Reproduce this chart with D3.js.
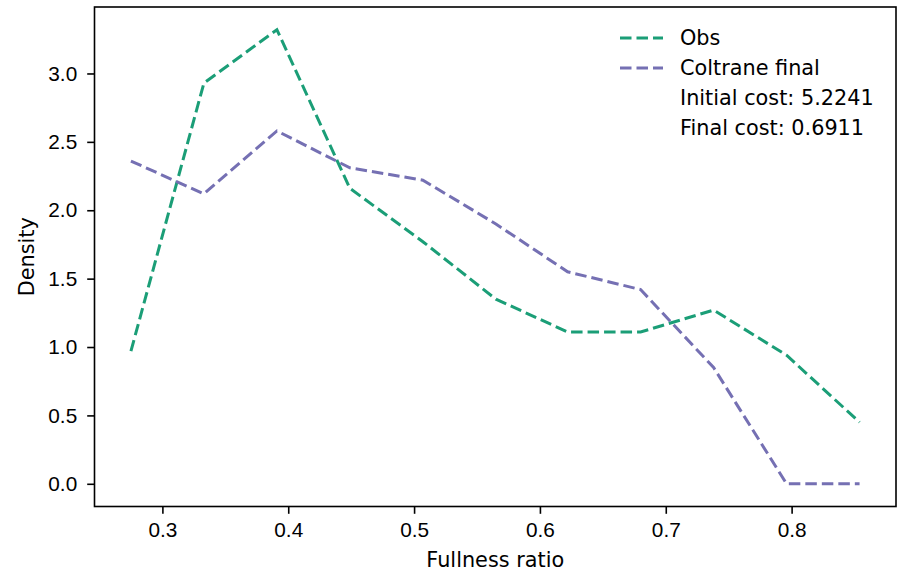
<!DOCTYPE html>
<html>
<head>
<meta charset="utf-8">
<script src="https://cdn.jsdelivr.net/npm/d3@7"></script>
<style>
    body { margin: 0; background: #fff; }
    svg { display: block; font-family: "DejaVu Sans", sans-serif; }
</style>
</head>
<body>
<div id="chart"></div>
<script>
// fullness ratio (bin centres)
const fullness = [0.275, 0.333, 0.391, 0.449, 0.507, 0.565, 0.622, 0.680, 0.738, 0.796, 0.854];
const obs = [0.97, 2.93, 3.32, 2.16, 1.77, 1.35, 1.11, 1.11, 1.27, 0.94, 0.45];
const coltrane = [2.36, 2.12, 2.58, 2.31, 2.22, 1.90, 1.55, 1.42, 0.85, 0.0, 0.0];
const xTicks = [0.3, 0.4, 0.5, 0.6, 0.7, 0.8];
const yTicks = [0.0, 0.5, 1.0, 1.5, 2.0, 2.5, 3.0];
const legendLines = ['Obs', 'Coltrane final'];
const legendNotes = ['Initial cost: 5.2241', 'Final cost: 0.6911'];

const W = 903, H = 572;
const m = { left: 94.5, right: 7, top: 7, bottom: 65.5 };
const colors = ['#1b9e77', '#7570b3'];
const fs = 20.8;
const dash = '11.5,5';

// matplotlib style 5% margins
function pad(ext) {
    const d = (ext[1] - ext[0]) * 0.05;
    return [ext[0] - d, ext[1] + d];
}

const x = d3.scaleLinear()
    .domain(pad(d3.extent(fullness)))
    .range([m.left, W - m.right]);

const y = d3.scaleLinear()
    .domain(pad([0, d3.max(obs.concat(coltrane))]))
    .range([H - m.bottom, m.top]);

const svg = d3.select('#chart').append('svg')
    .attr('width', W)
    .attr('height', H);

const series = [obs, coltrane];

const line = d3.line()
    .x((d, i) => x(fullness[i]))
    .y(d => y(d));

svg.selectAll('path.series')
    .data(series)
    .join('path')
    .attr('class', 'series')
    .attr('d', line)
    .attr('fill', 'none')
    .attr('stroke', (d, i) => colors[i])
    .attr('stroke-width', 3)
    .attr('stroke-dasharray', dash);

// axes
const xAxis = svg.append('g')
    .attr('transform', `translate(0,${H - m.bottom})`)
    .call(d3.axisBottom(x).tickValues(xTicks).tickFormat(d3.format('.1f')).tickSize(7.3).tickPadding(8).tickSizeOuter(0));

const yAxis = svg.append('g')
    .attr('transform', `translate(${m.left},0)`)
    .call(d3.axisLeft(y).tickValues(yTicks).tickFormat(d3.format('.1f')).tickSize(7.3).tickPadding(10).tickSizeOuter(0));

[xAxis, yAxis].forEach(a => {
    a.select('.domain').remove();
    a.selectAll('.tick line').attr('stroke', '#000').attr('stroke-width', 1.6);
    a.selectAll('.tick text').attr('fill', '#000').style('font-size', fs + 'px');
});

// frame
svg.append('rect')
    .attr('x', m.left)
    .attr('y', m.top)
    .attr('width', W - m.left - m.right)
    .attr('height', H - m.top - m.bottom)
    .attr('fill', 'none')
    .attr('stroke', '#000')
    .attr('stroke-width', 1.6);

// labels
svg.append('text')
    .attr('x', (m.left + W - m.right) / 2)
    .attr('y', 567)
    .attr('text-anchor', 'middle')
    .style('font-size', fs + 'px')
    .text('Fullness ratio');

svg.append('text')
    .attr('transform', `translate(34,${(m.top + H - m.bottom) / 2}) rotate(-90)`)
    .attr('text-anchor', 'middle')
    .style('font-size', fs + 'px')
    .text('Density');

// legend
const leg = svg.append('g');
const items = legendLines.concat(legendNotes);

leg.selectAll('text')
    .data(items)
    .join('text')
    .attr('x', 680)
    .attr('y', (d, i) => 45 + i * 30)
    .style('font-size', fs + 'px')
    .text(d => d);

leg.selectAll('line')
    .data(legendLines)
    .join('line')
    .attr('x1', 620)
    .attr('x2', 663)
    .attr('y1', (d, i) => 38 + i * 30)
    .attr('y2', (d, i) => 38 + i * 30)
    .attr('stroke', (d, i) => colors[i])
    .attr('stroke-width', 3)
    .attr('stroke-dasharray', dash);
</script>
</body>
</html>
